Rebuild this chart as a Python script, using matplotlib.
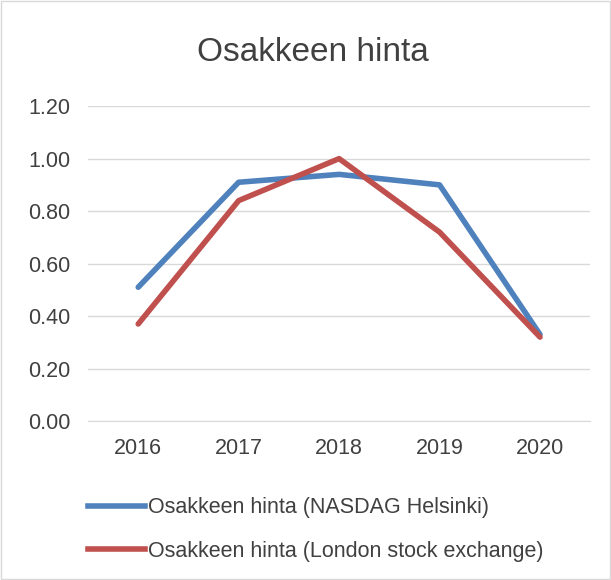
import matplotlib.pyplot as plt
from matplotlib.lines import Line2D
from matplotlib.patches import Rectangle

years = ["2016", "2017", "2018", "2019", "2020"]
nasdaq = [0.51, 0.91, 0.94, 0.90, 0.33]
london = [0.37, 0.84, 1.00, 0.72, 0.32]
yticks = [0.0, 0.2, 0.4, 0.6, 0.8, 1.0, 1.2]
labels = ["Osakkeen hinta (NASDAG Helsinki)", "Osakkeen hinta (London stock exchange)"]

blue = "#4F81BD"
red = "#C0504D"
text_col = "#404040"

plt.rcParams['font.family'] = ['Liberation Sans', 'DejaVu Sans']

fig = plt.figure(figsize=(6.11, 5.8), dpi=100)
fig.patches.append(Rectangle((0.002, 0.002), 0.996, 0.996, transform=fig.transFigure,
                             fill=False, edgecolor="#D9D9D9", linewidth=1))

ax = fig.add_axes([0.144, 0.274, 0.822, 0.543])
x = range(len(years))
ax.plot(x, nasdaq, color=blue, linewidth=4, solid_capstyle='round')
ax.plot(x, london, color=red, linewidth=4, solid_capstyle='round')

ax.set_xlim(-0.5, len(years) - 0.5)
ax.set_ylim(0, 1.2)
ax.set_yticks(yticks)
ax.set_yticklabels([f"{v:.2f}" for v in yticks])
ax.set_xticks(list(x))
ax.set_xticklabels(years)
ax.tick_params(length=0, labelsize=15.5, colors=text_col)
ax.tick_params(axis='y', pad=12.5)
ax.tick_params(axis='x', pad=12)
ax.grid(axis='y', color="#D9D9D9", linewidth=1)
ax.set_axisbelow(True)
for side in ["top", "right", "left"]:
    ax.spines[side].set_visible(False)
ax.spines["bottom"].set_color("#D9D9D9")

fig.text(0.512, 0.91, "Osakkeen hinta", ha='center', va='center', fontsize=24, color=text_col)

handles = [Line2D([], [], color=blue, linewidth=4), Line2D([], [], color=red, linewidth=4)]
fig.legend(handles, labels, loc='upper left', bbox_to_anchor=(0.112, 0.176), frameon=False,
           fontsize=15.5, labelcolor=text_col, handlelength=2.65, handletextpad=0.14,
           labelspacing=1.05)

fig.savefig("out.png", dpi=100)
